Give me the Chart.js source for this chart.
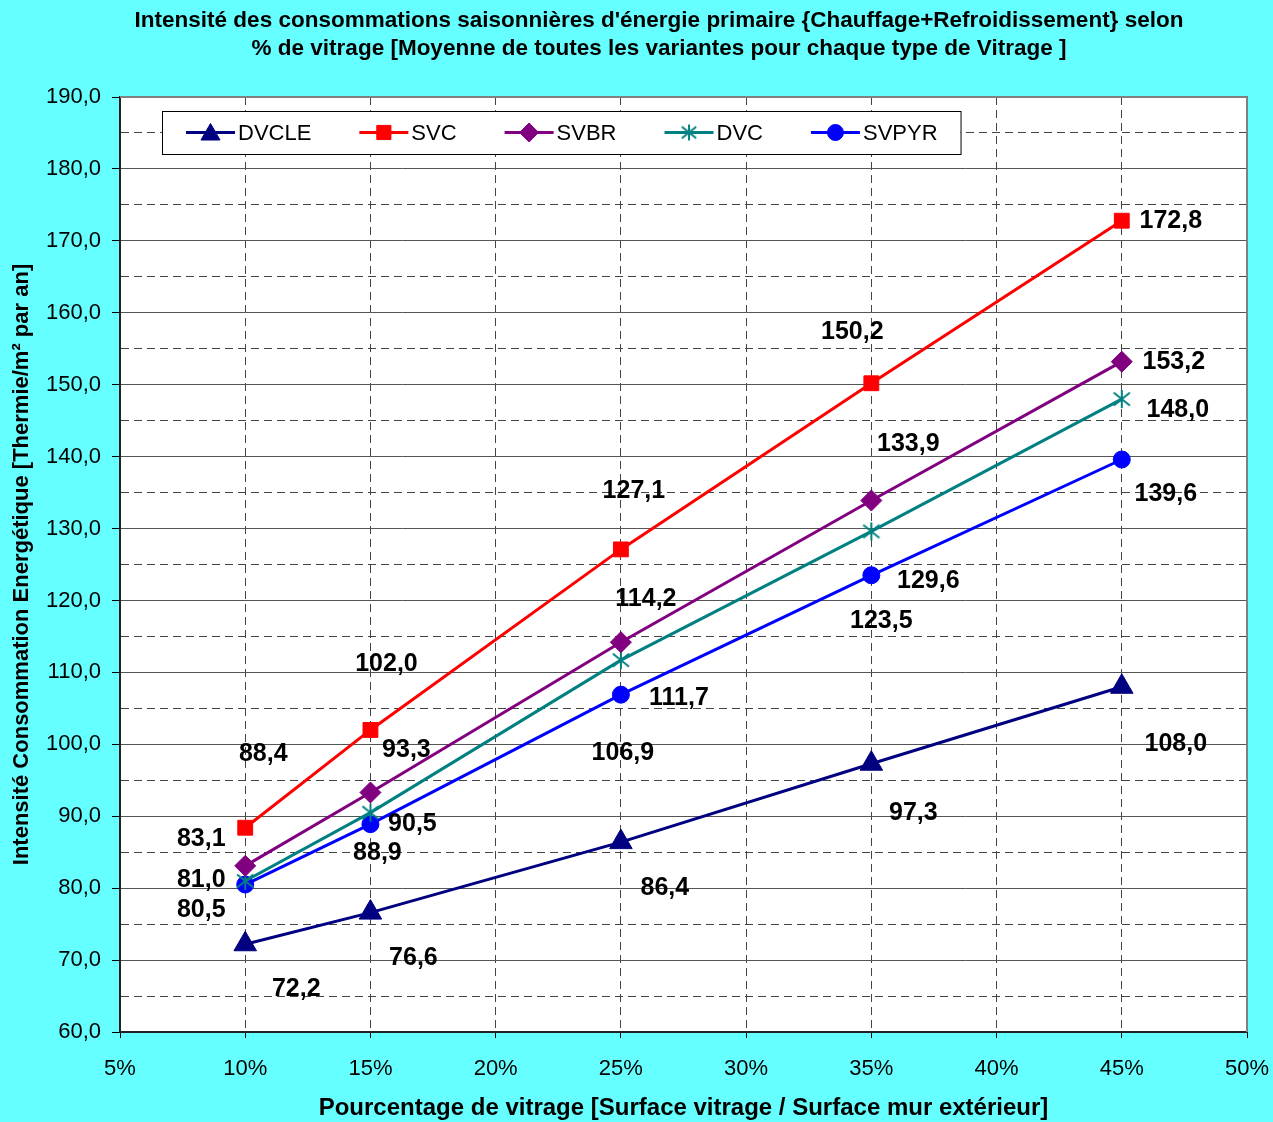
<!DOCTYPE html>
<html><head><meta charset="utf-8">
<script src="https://cdn.jsdelivr.net/npm/chart.js@4"></script>
<style>html,body{margin:0;padding:0;background:#66FFFF;}canvas{display:block;}</style>
</head><body>
<canvas id="c" width="1273" height="1122"></canvas>
<script>
// ---- data ----
const TITLE_LINES = [
  "Intensité des consommations saisonnières d'énergie primaire {Chauffage+Refroidissement} selon",
  "% de vitrage [Moyenne de toutes les variantes pour chaque type de Vitrage ]"
];
const X_TITLE = "Pourcentage de vitrage [Surface vitrage / Surface mur extérieur]";
const Y_TITLE = "Intensité Consommation Energétique [Thermie/m² par an]";
const GLAZING_PCT = [10, 15, 25, 35, 45];
const SERIES_NAMES = ["DVCLE", "SVC", "SVBR", "DVC", "SVPYR"];
const DVCLE = [72.2, 76.6, 86.4, 97.3, 108.0];
const SVC   = [88.4, 102.0, 127.1, 150.2, 172.8];
const SVBR  = [83.1, 93.3, 114.2, 133.9, 153.2];
const DVC   = [81.0, 90.5, 111.7, 129.6, 148.0];
const SVPYR = [80.5, 88.9, 106.9, 123.5, 139.6];
const X_MIN = 5, X_MAX = 50, X_STEP = 5;
const Y_MIN = 60, Y_MAX = 190, Y_STEP = 5, Y_LABEL_STEP = 10;

// label offsets (px from the point), one list per series
const LABEL_OFFSETS = [
  [[51,45],[43,46],[44,46],[42,49],[54,57]],
  [[18,-74],[16,-66],[13,-58],[-19,-51],[49,0]],
  [[-44,-27],[36,-42],[25,-43],[37,-56],[52,0]],
  [[-44,-1],[42,11],[58,38],[57,50],[56,11]],
  [[-44,26],[7,29],[2,58],[10,46],[44,35]]
];

const FONT = '"Liberation Sans", Arial, Helvetica, sans-serif';
Chart.defaults.font.family = FONT;
Chart.defaults.color = '#000';

function makeAsterisk(size, color, lw) {
  const c = document.createElement('canvas');
  c.width = size; c.height = size;
  const g = c.getContext('2d');
  g.strokeStyle = color; g.lineWidth = lw;
  const m = size / 2, r = size / 2 - 1;
  g.beginPath();
  g.moveTo(m, m - r); g.lineTo(m, m + r);
  const dx = r * 0.9, dy = r * 0.72;
  g.moveTo(m - dx, m - dy); g.lineTo(m + dx, m + dy);
  g.moveTo(m - dx, m + dy); g.lineTo(m + dx, m - dy);
  g.stroke();
  return c;
}
const asterisk = makeAsterisk(20, '#008080', 2);
const asteriskSmall = makeAsterisk(18, '#008080', 2);

const pts = arr => arr.map((v, i) => ({x: GLAZING_PCT[i], y: v}));
const COLORS = ['#000080', '#FF0000', '#800080', '#008080', '#0000FF'];
const STYLES = ['triangle', 'rect', 'rectRot', asterisk, 'circle'];
const RADII = [13, 10.5, 10.5, 10, 8.5];
const LEGEND_STYLES = ['triangle', 'rect', 'rectRot', asteriskSmall, 'circle'];
const LEGEND_RADII = [11, 10, 9.5, 9, 8];
const SERIES = [DVCLE, SVC, SVBR, DVC, SVPYR];

const datasets = SERIES.map((s, k) => ({
  label: SERIES_NAMES[k],
  data: pts(s),
  borderColor: COLORS[k],
  backgroundColor: COLORS[k],
  borderWidth: 3,
  pointStyle: STYLES[k],
  pointRadius: RADII[k],
  pointBorderWidth: 1,
  pointBorderColor: COLORS[k],
  pointBackgroundColor: COLORS[k],
  tension: 0
}));

const fmt = v => v.toFixed(1).replace('.', ',');

const bgPlugin = {
  id: 'bg',
  beforeDraw(chart) {
    const {ctx, chartArea: a} = chart;
    ctx.save();
    ctx.fillStyle = '#66FFFF';
    ctx.fillRect(0, 0, chart.width, chart.height);
    ctx.fillStyle = '#FFFFFF';
    ctx.fillRect(a.left, a.top, a.right - a.left, a.bottom - a.top);
    ctx.restore();
  },
  beforeDatasetsDraw(chart) {
    const {ctx, chartArea: a} = chart;
    ctx.save();
    ctx.strokeStyle = '#808080';
    ctx.lineWidth = 2;
    ctx.beginPath();
    ctx.moveTo(a.left, a.top); ctx.lineTo(a.right, a.top); ctx.lineTo(a.right, a.bottom);
    ctx.stroke();
    ctx.restore();
  }
};

const labelPlugin = {
  id: 'vlabels',
  afterDatasetsDraw(chart) {
    const ctx = chart.ctx;
    ctx.save();
    ctx.font = 'bold 25px ' + FONT;
    ctx.fillStyle = '#000';
    ctx.textAlign = 'center';
    ctx.textBaseline = 'middle';
    chart.data.datasets.forEach((ds, k) => {
      const meta = chart.getDatasetMeta(k);
      meta.data.forEach((el, i) => {
        const off = LABEL_OFFSETS[k][i];
        ctx.fillText(fmt(ds.data[i].y), el.x + off[0], el.y + off[1]);
      });
    });
    ctx.restore();
  }
};

const legendPlugin = {
  id: 'boxLegend',
  afterDraw(chart) {
    const ctx = chart.ctx;
    const boxLeft = 162, boxTop = 111, boxH = 43;
    const padL = 24, padR = 23, lineLen = 49, textGap = 3, itemGap = 48;
    ctx.save();
    ctx.font = '22px ' + FONT;
    let x = boxLeft + padL;
    const items = chart.data.datasets.map(ds => {
      const w = ctx.measureText(ds.label).width;
      const it = {x, w};
      x += lineLen + textGap + w + itemGap;
      return it;
    });
    const boxRight = x - itemGap + padR;
    ctx.fillStyle = '#fff';
    ctx.fillRect(boxLeft, boxTop, boxRight - boxLeft, boxH);
    ctx.strokeStyle = '#000';
    ctx.lineWidth = 1;
    ctx.strokeRect(boxLeft + 0.5, boxTop + 0.5, boxRight - boxLeft, boxH);
    const cy = boxTop + boxH / 2;
    chart.data.datasets.forEach((ds, k) => {
      const it = items[k];
      ctx.strokeStyle = COLORS[k];
      ctx.lineWidth = 3;
      ctx.beginPath();
      ctx.moveTo(it.x, cy); ctx.lineTo(it.x + lineLen, cy);
      ctx.stroke();
      ctx.fillStyle = COLORS[k];
      ctx.strokeStyle = COLORS[k];
      ctx.lineWidth = 1;
      Chart.helpers.drawPoint(ctx, {pointStyle: LEGEND_STYLES[k], radius: LEGEND_RADII[k], rotation: 0, borderWidth: 1}, it.x + lineLen / 2, cy + (k === 0 ? 2 : 0));
      ctx.fillStyle = '#000';
      ctx.textAlign = 'left';
      ctx.textBaseline = 'middle';
      ctx.fillText(ds.label, it.x + lineLen + textGap, cy + 1);
    });
    ctx.restore();
  }
};

const titlePlugin = {
  id: 'topTitle',
  afterDraw(chart) {
    const ctx = chart.ctx;
    ctx.save();
    ctx.font = 'bold 22.5px ' + FONT;
    ctx.fillStyle = '#000';
    ctx.textAlign = 'center';
    ctx.textBaseline = 'middle';
    TITLE_LINES.forEach((t, i) => ctx.fillText(t, 659, 21 + i * 28));
    ctx.restore();
  }
};

new Chart(document.getElementById('c'), {
  type: 'line',
  data: {datasets},
  options: {
    responsive: false,
    animation: false,
    events: [],
    layout: {padding: {top: 97, right: 26, left: 0, bottom: 0}},
    plugins: {legend: {display: false}, title: {display: false}, tooltip: {enabled: false}},
    scales: {
      x: {
        type: 'linear', min: X_MIN, max: X_MAX,
        afterFit(s) { s.height = 90; s.paddingLeft = 0; s.paddingRight = 0; },
        ticks: {stepSize: X_STEP, callback: v => v + '%', font: {size: 22}, padding: 18, color: '#000', autoSkip: false, maxRotation: 0},
        grid: {
          color: c => (c.tick && (c.tick.value === X_MIN || c.tick.value === X_MAX)) ? 'rgba(0,0,0,0)' : '#444',
          lineWidth: 1, tickLength: 6, tickColor: '#000', tickWidth: 1
        },
        border: {display: true, color: '#222', width: 2, dash: c => c.tick ? [8, 5] : []},
        title: {display: true, text: X_TITLE, font: {size: 24, weight: 'bold', lineHeight: 1.1}, padding: {top: 0, bottom: 0}, color: '#000'}
      },
      y: {
        type: 'linear', min: Y_MIN, max: Y_MAX,
        afterFit(s) { s.width = 120; s.paddingTop = 0; s.paddingBottom = 0; },
        ticks: {stepSize: Y_STEP, autoSkip: false, callback: v => (v % Y_LABEL_STEP === 0 ? fmt(v) : ''), font: {size: 22}, padding: 11, color: '#000'},
        grid: {
          color: c => c.tick && c.tick.value % Y_LABEL_STEP === 0 ? '#555' : '#444',
          lineWidth: 1, tickLength: 8,
          tickColor: c => c.tick && c.tick.value % Y_LABEL_STEP === 0 ? '#000' : 'rgba(0,0,0,0)'
        },
        border: {display: true, color: '#222', width: 2, dash: c => (c.tick && c.tick.value % Y_LABEL_STEP !== 0) ? [8, 5] : []},
        title: {display: true, text: Y_TITLE, font: {size: 22, weight: 'bold'}, padding: {top: 9, bottom: 0}, color: '#000'}
      }
    }
  },
  plugins: [bgPlugin, labelPlugin, legendPlugin, titlePlugin]
});
</script>
</body></html>
